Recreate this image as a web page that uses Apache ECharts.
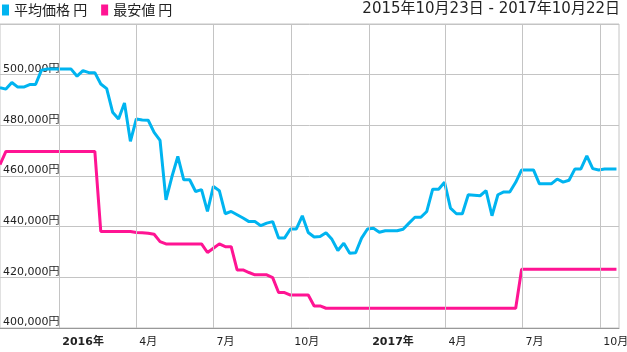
<!DOCTYPE html>
<html><head><meta charset="utf-8">
<script src="https://cdn.jsdelivr.net/npm/echarts@6/dist/echarts.min.js"></script>
<style>html,body{margin:0;padding:0;background:#fff}#c{width:627px;height:352px}</style>
</head><body><div id="c"></div>
<script>
// ---- data (weekly samples) ----
const firstWeek = '2015-10-23';
const axisStart = '2015-10-23';
const axisEnd = '2017-10-23';
const seriesNames = ['平均価格 円', '最安値 円'];
const avgPrice = [
  494900,494300,496900,495100,495100,496100,496100,501800,502200,502200,
  502200,502200,502200,499400,501600,500800,500800,496300,494500,485200,
  482500,488800,473700,482500,482100,482000,477200,474100,450600,459700,
  467700,458500,458500,453900,454600,446000,455900,454200,445100,446000,
  444700,443400,442000,442000,440400,441400,442000,435500,435500,439100,
  439100,444300,437700,435900,436100,437600,435000,430600,433500,429500,
  429700,435500,439100,439400,437800,438400,438400,438400,439000,441400,
  443700,443700,446000,454800,454800,457500,447300,445100,445100,452600,
  452400,452200,454200,444300,452600,453700,453700,457500,462400,462400,
  462400,456900,456900,456900,458800,457600,458300,462800,462800,467900,
  462900,462400,462800,462800,462800
];
const minPrice = [
  464500,469700,469700,469700,469700,469700,469700,469700,469700,469700,
  469700,469700,469700,469700,469700,469700,469700,438100,438100,438100,
  438100,438100,438100,437700,437600,437400,437000,434100,433200,433200,
  433200,433200,433200,433200,433200,429800,431500,433200,432100,432100,
  422900,422900,421900,421000,421000,421000,419900,414000,414000,413000,
  413000,413000,413000,408700,408700,407800,407800,407800,407800,407800,
  407800,407800,407800,407800,407800,407800,407800,407800,407800,407800,
  407800,407800,407800,407800,407800,407800,407800,407800,407800,407800,
  407800,407800,407800,407800,407800,407800,407800,407800,423200,423200,
  423200,423200,423200,423200,423200,423200,423200,423200,423200,423200,
  423200,423200,423200,423200,423200
];
const tickDates = ['2016-01-01','2016-04-01','2016-07-01','2016-10-01','2017-01-01','2017-04-01','2017-07-01','2017-10-01'];
const tickLabels = ['2016年','4月','7月','10月','2017年','4月','7月','10月'];
const yMin = 400000, yMax = 520000, yStep = 20000;
const dateRangeText = '2015年10月23日 - 2017年10月22日';

// ---- helpers ----
function toTs(s, addDays) {
  const p = s.split('-').map(Number);
  return new Date(p[0], p[1] - 1, p[2] + (addDays || 0)).getTime();
}
const weekDates = avgPrice.map((_, i) => toTs(firstWeek, i * 7));
const tickTs = tickDates.map(d => toTs(d));
const font = "'DejaVu Sans','Noto Sans CJK JP',sans-serif";
const cjk = "'Noto Sans CJK JP','DejaVu Sans',sans-serif";
const gridColor = '#c4c4c4';

const chart = echarts.init(document.getElementById('c'), null, {renderer: 'canvas'});
chart.setOption({
  animation: false,
  backgroundColor: '#fff',
  title: {
    text: dateRangeText, right: 7, top: 2, padding: 0,
    textStyle: {fontSize: 15, fontWeight: 'normal', color: '#222', fontFamily: font}
  },
  legend: {
    left: 2, top: 3, padding: 0, itemGap: 14, itemWidth: 7, itemHeight: 11,
    icon: 'rect',
    textStyle: {fontSize: 14, color: '#222', fontFamily: cjk},
    data: seriesNames
  },
  grid: {left: 0, right: 8, top: 24, bottom: 24, show: true, backgroundColor: 'rgba(0,0,0,0)', borderColor: gridColor, borderWidth: 1, outerBoundsMode: 'none'},
  xAxis: {
    type: 'value',
    min: toTs(axisStart), max: toTs(axisEnd),
    axisLine: {show: true, onZero: false, lineStyle: {color: '#999', width: 1, opacity: 1}},
    axisTick: {show: false, customValues: tickTs},
    splitLine: {show: false},
    axisLabel: {
      customValues: tickTs,
      align: 'left', margin: 9, padding: [0, 0, 0, 3],
      fontSize: 11, color: '#222', fontFamily: font,
      formatter: function (v) {
        let best = -1, bd = Infinity;
        tickTs.forEach((t, i) => { const d = Math.abs(t - v); if (d < bd) { bd = d; best = i; } });
        const lab = tickLabels[best];
        return lab.indexOf('年') >= 0 ? '{b|' + lab + '}' : lab;
      },
      rich: {b: {fontWeight: 'bold', fontSize: 11, color: '#222', fontFamily: font}}
    }
  },
  yAxis: {
    type: 'value', min: yMin, max: yMax, interval: yStep,
    axisLine: {show: false}, axisTick: {show: false},
    splitLine: {show: true, lineStyle: {color: gridColor, width: 1, type: 'solid', opacity: 1}},
    axisLabel: {
      inside: true, margin: 3, verticalAlign: 'bottom', showMaxLabel: false,
      fontSize: 11, color: '#222', fontFamily: font,
      formatter: v => v.toLocaleString('en-US') + '円'
    }
  },
  series: [
    {
      name: 'grid-v', type: 'line', data: [], z: 0, silent: true,
      markLine: {
        silent: true, symbol: 'none', animation: false,
        label: {show: false},
        lineStyle: {color: gridColor, width: 1, type: 'solid', opacity: 1},
        emphasis: {disabled: true},
        data: tickTs.map(t => ({xAxis: t}))
      }
    },
    {
      name: seriesNames[0], type: 'line', showSymbol: false, symbol: 'none', z: 3,
      data: weekDates.map((d, i) => [d, avgPrice[i]]),
      lineStyle: {color: '#00B4F0', width: 3}, itemStyle: {color: '#00B4F0'}
    },
    {
      name: seriesNames[1], type: 'line', showSymbol: false, symbol: 'none', z: 3,
      data: weekDates.map((d, i) => [d, minPrice[i]]),
      lineStyle: {color: '#FF1493', width: 3}, itemStyle: {color: '#FF1493'}
    }
  ]
});
</script></body></html>
